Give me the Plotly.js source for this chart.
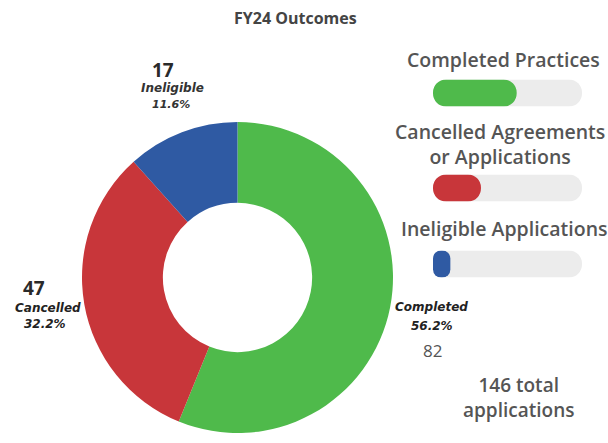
<!DOCTYPE html>
<html>
<head>
<meta charset="utf-8">
<script src="https://cdn.plot.ly/plotly-3.0.1.min.js"></script>
<style>html,body{margin:0;padding:0;background:#fff;}#chart{width:608px;height:443px;}</style>
</head>
<body>
<div id="chart"></div>
<script>
// ---- data ----
const categories = ["Completed", "Cancelled", "Ineligible"];
const counts = [82, 47, 17];
const legendTitles = ["Completed Practices", "Cancelled Agreements<br>or Applications", "Ineligible Applications"];
const chartTitle = "FY24 Outcomes";
const colors = ["#4fba4b", "#c8363a", "#2f5aa3"];

const total = counts.reduce((a, b) => a + b, 0);
const shares = counts.map(c => c / total);
const pct = shares.map(s => (s * 100).toFixed(1) + "%");

const W = 608, H = 443;
const px = x => x / W;
const py = y => 1 - y / H;

const traces = [{
  type: "pie",
  labels: categories,
  values: counts,
  hole: 0.48,
  sort: false,
  direction: "clockwise",
  rotation: 0,
  marker: {colors: colors, line: {width: 0}},
  textinfo: "none",
  hoverinfo: "label+value+percent",
  showlegend: false,
  domain: {x: [px(82), px(393)], y: [py(434), py(121)]}
}];

// progress bars (one small subplot per category)
const barCenters = [93, 188, 264];
const barH = 27;
const layoutAxes = {};
function pill(val, xa, ya, color, hover) {
  return {type: "bar", orientation: "h", x: [val], base: [0], y: [0], width: 1,
    xaxis: xa, yaxis: ya, marker: {color: color, line: {width: 0}}, showlegend: false,
    hoverinfo: hover ? "x" : "skip"};
}
categories.forEach((c, i) => {
  const n = i + 2;
  const xa = "x" + n, ya = "y" + n;
  traces.push(pill(1, xa, ya, "#ececec", false));
  traces.push(pill(shares[i], xa, ya, colors[i], true));
  layoutAxes["xaxis" + n] = {domain: [px(433), px(582)], range: [0, 1], visible: false, fixedrange: true, anchor: ya};
  layoutAxes["yaxis" + n] = {domain: [py(barCenters[i] + barH / 2), py(barCenters[i] - barH / 2)], range: [-0.5, 0.5], visible: false, fixedrange: true, anchor: xa};
});

const fontFam = "'Open Sans', 'Noto Sans', sans-serif";
const labFam = "'DejaVu Sans', sans-serif";
function ann(text, x, y, size, color, extra) {
  const a = {
    text: text, x: px(x), y: py(y), xref: "paper", yref: "paper",
    xanchor: "center", yanchor: "middle", showarrow: false,
    font: {family: fontFam, size: size, color: color}
  };
  if (extra) Object.assign(a.font, extra);
  return a;
}

const annotations = [
  ann("<b>" + chartTitle + "</b>", 295, 18, 16, "#444"),
  // slice labels
  ann("<b>" + counts[2] + "</b>", 163, 70, 19, "#2a2a2a"),
  ann("<b><i>" + categories[2] + "</i></b>", 172, 88, 12, "#333", {family: labFam}),
  ann("<b><i>" + pct[2] + "</i></b>", 171, 104, 11, "#333", {family: labFam}),
  ann("<b>" + counts[1] + "</b>", 34, 288, 19, "#2a2a2a"),
  ann("<b><i>" + categories[1] + "</i></b>", 48, 308, 12, "#222", {family: labFam}),
  ann("<b><i>" + pct[1] + "</i></b>", 45, 324, 12, "#222", {family: labFam}),
  ann("<b><i>" + categories[0] + "</i></b>", 431, 307, 12, "#222", {family: labFam}),
  ann("<b><i>" + pct[0] + "</i></b>", 432, 326, 12, "#222", {family: labFam}),
  ann(String(counts[0]), 432, 350, 17, "#555"),
  // legend titles
  ann(legendTitles[0], 503, 60, 19.5, "#555", {weight: 600}),
  ann(legendTitles[1], 500, 144, 19.5, "#555", {weight: 600}),
  ann(legendTitles[2], 504, 228, 19.5, "#555", {weight: 600}),
  ann(total + " total<br>applications", 518, 397, 19, "#555", {weight: 600})
];

const layout = Object.assign({
  width: W, height: H,
  margin: {l: 0, r: 0, t: 0, b: 0},
  paper_bgcolor: "#fff", plot_bgcolor: "rgba(0,0,0,0)",
  barmode: "overlay",
  barcornerradius: "50%",
  showlegend: false,
  font: {family: fontFam},
  annotations: annotations
}, layoutAxes);

Plotly.newPlot("chart", traces, layout, {displayModeBar: false, staticPlot: true});
</script>
</body>
</html>
